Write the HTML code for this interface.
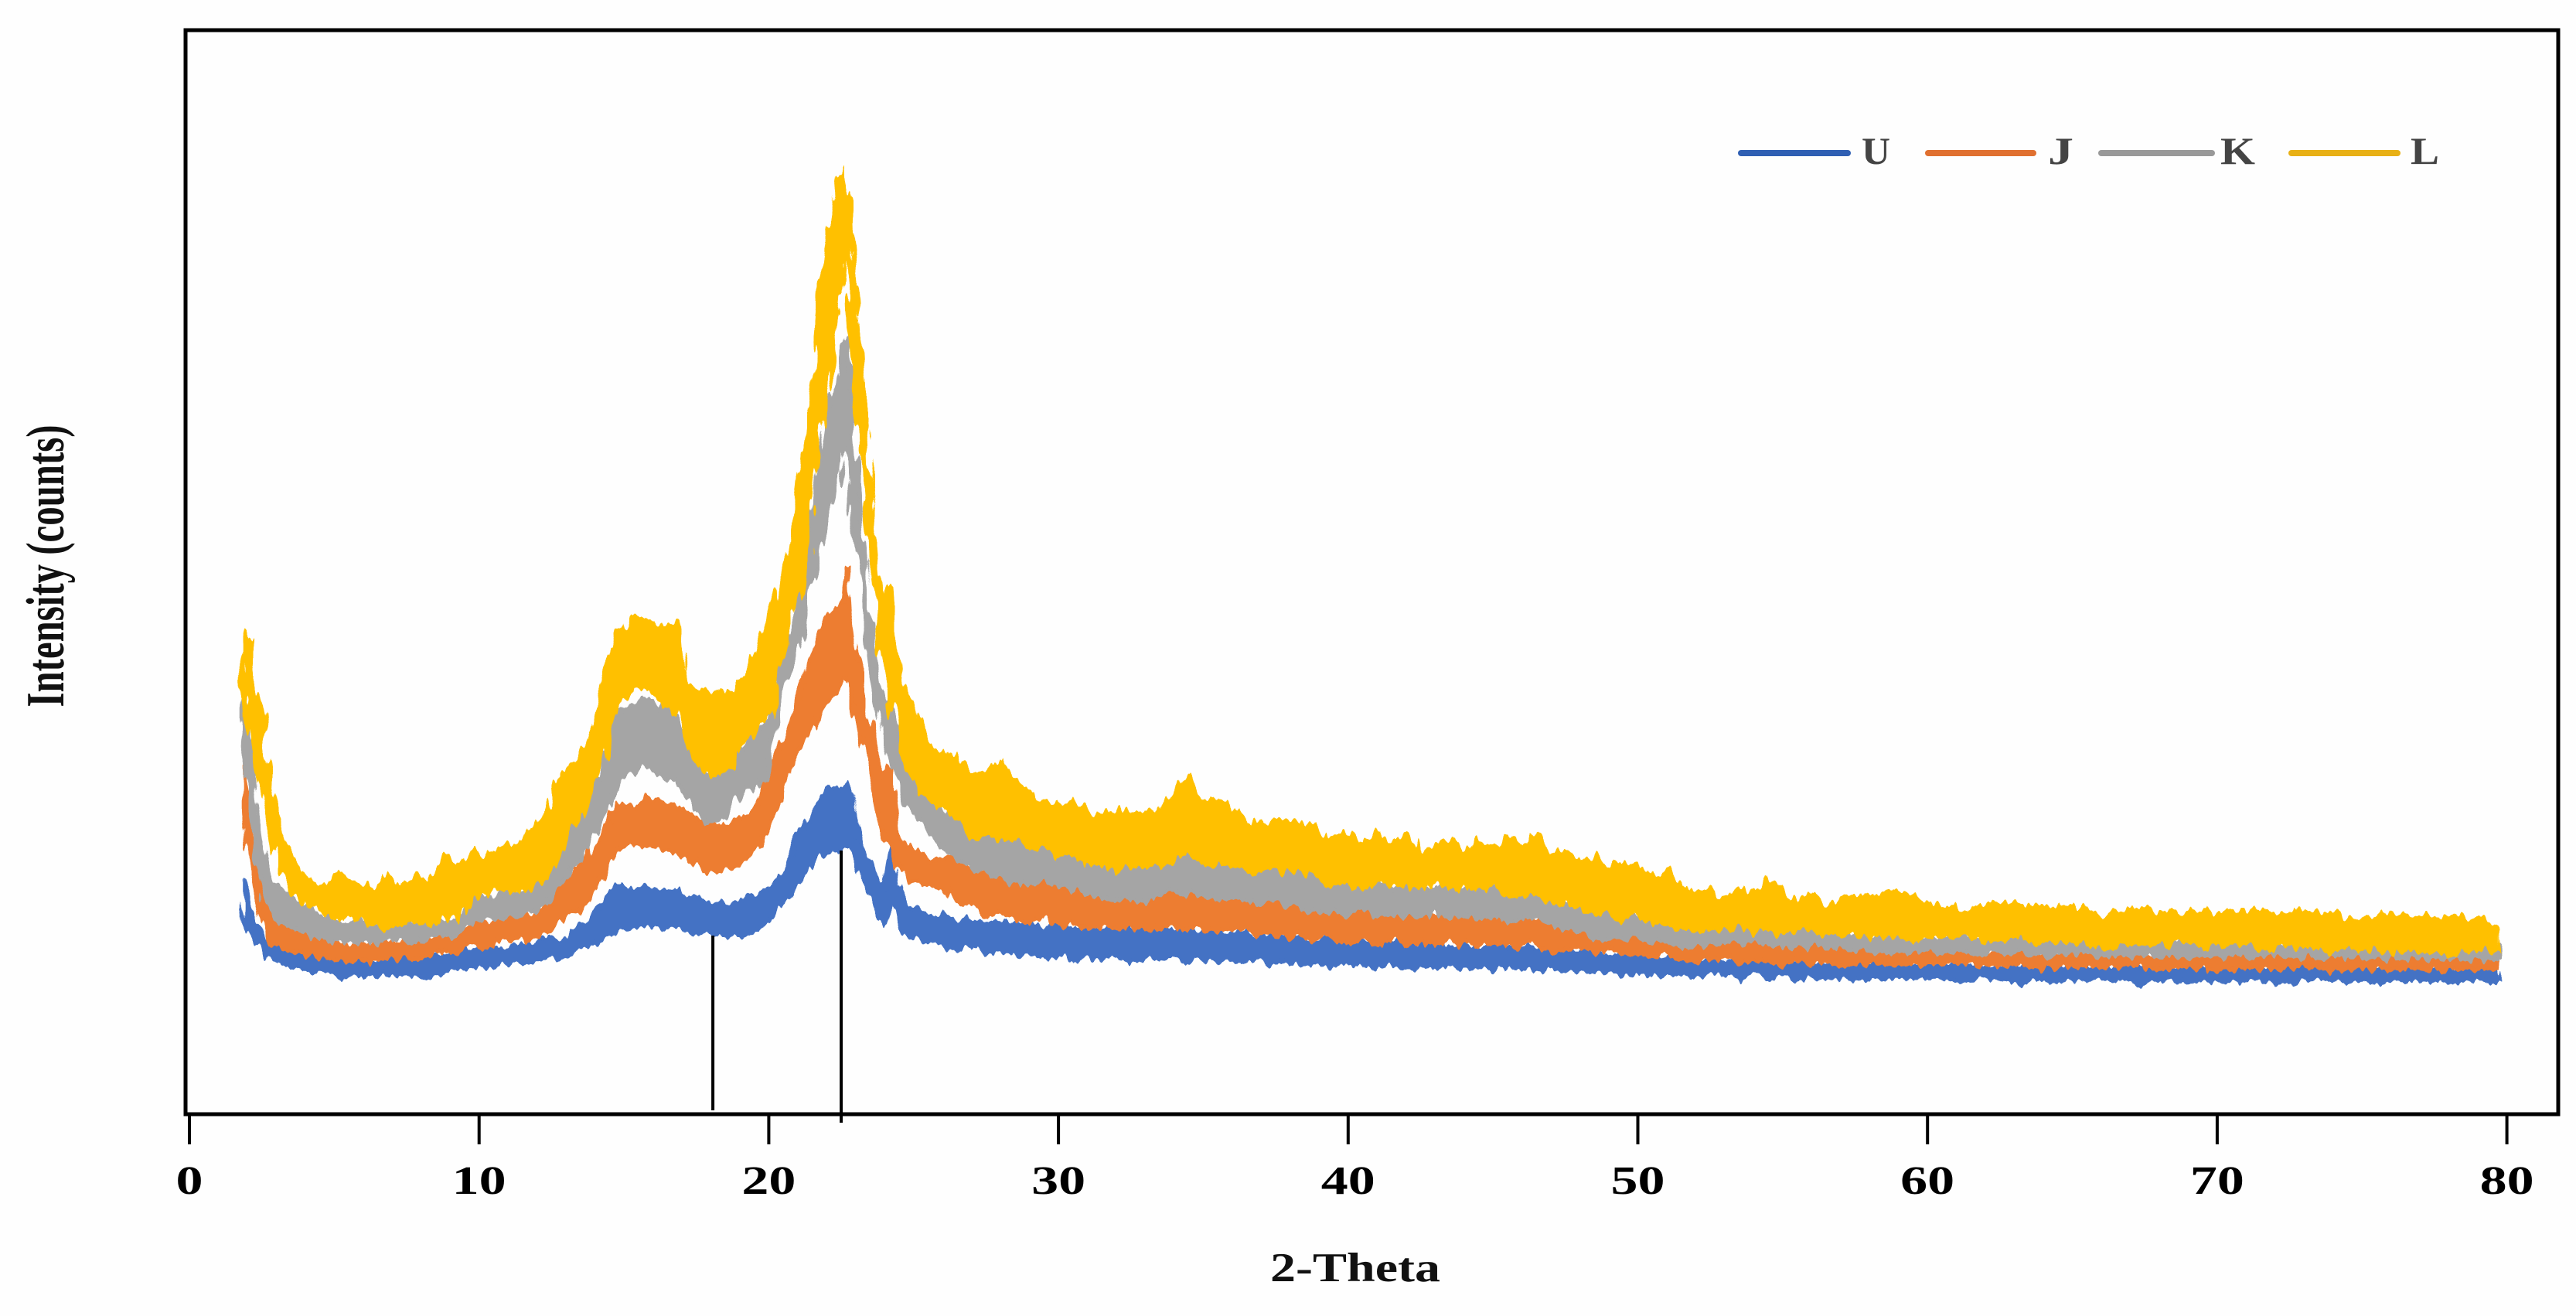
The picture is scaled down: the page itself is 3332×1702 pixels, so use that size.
<!DOCTYPE html>
<html lang="en">
<head>
<meta charset="utf-8">
<title>2-Theta Intensity Chart</title>
<style>
html,body{margin:0;padding:0;background:#fefefe;}
svg{display:block;}
text{font-family:"Liberation Serif",serif;font-weight:bold;}
</style>
</head>
<body>
<svg id="chart" xmlns="http://www.w3.org/2000/svg" width="3332" height="1702" viewBox="0 0 3332 1702">
  <defs>
    <filter id="rough-u" filterUnits="userSpaceOnUse" x="0" y="0" width="3332" height="1702" color-interpolation-filters="sRGB">
      <feTurbulence type="fractalNoise" baseFrequency="0.11 0.02" numOctaves="2" seed="3" result="n"/>
      <feDisplacementMap in="SourceGraphic" in2="n" scale="18" xChannelSelector="G" yChannelSelector="R"/>
    </filter>
    <filter id="rough-j" filterUnits="userSpaceOnUse" x="0" y="0" width="3332" height="1702" color-interpolation-filters="sRGB">
      <feTurbulence type="fractalNoise" baseFrequency="0.11 0.02" numOctaves="2" seed="11" result="n"/>
      <feDisplacementMap in="SourceGraphic" in2="n" scale="20" xChannelSelector="G" yChannelSelector="R"/>
    </filter>
    <filter id="rough-k" filterUnits="userSpaceOnUse" x="0" y="0" width="3332" height="1702" color-interpolation-filters="sRGB">
      <feTurbulence type="fractalNoise" baseFrequency="0.11 0.02" numOctaves="2" seed="23" result="n"/>
      <feDisplacementMap in="SourceGraphic" in2="n" scale="20" xChannelSelector="G" yChannelSelector="R"/>
    </filter>
    <filter id="rough-l" filterUnits="userSpaceOnUse" x="0" y="0" width="3332" height="1702" color-interpolation-filters="sRGB">
      <feTurbulence type="fractalNoise" baseFrequency="0.11 0.02" numOctaves="2" seed="37" result="n"/>
      <feDisplacementMap in="SourceGraphic" in2="n" scale="24" xChannelSelector="G" yChannelSelector="R"/>
    </filter>
  </defs>
  <rect x="0" y="0" width="3332" height="1702" fill="#fefefe"/>
  <g id="series"></g>
  <g id="markers"></g>
  <rect x="240" y="39" width="3069" height="1402" fill="none" stroke="#000" stroke-width="5"/>
  <g id="ticks"></g>
  <text x="1753" y="1657" font-size="53" text-anchor="middle" textLength="220" lengthAdjust="spacingAndGlyphs" fill="#111">2-Theta</text>
  <text transform="translate(82,732) rotate(-90)" font-size="70" text-anchor="middle" textLength="365" lengthAdjust="spacingAndGlyphs" fill="#111">Intensity (counts)</text>
  <g>
    <line x1="2252" y1="198" x2="2390" y2="198" stroke="#2f5fb3" stroke-width="8" stroke-linecap="round"/>
    <text x="2408" y="212" font-size="50" textLength="37" lengthAdjust="spacingAndGlyphs" fill="#444">U</text>
    <line x1="2494" y1="198" x2="2630" y2="198" stroke="#e07030" stroke-width="8" stroke-linecap="round"/>
    <text x="2649" y="212" font-size="50" textLength="33" lengthAdjust="spacingAndGlyphs" fill="#444">J</text>
    <line x1="2718" y1="198" x2="2861" y2="198" stroke="#999999" stroke-width="8" stroke-linecap="round"/>
    <text x="2872" y="212" font-size="50" textLength="45" lengthAdjust="spacingAndGlyphs" fill="#444">K</text>
    <line x1="2964" y1="198" x2="3101" y2="198" stroke="#e8b015" stroke-width="8" stroke-linecap="round"/>
    <text x="3118" y="212" font-size="50" textLength="37" lengthAdjust="spacingAndGlyphs" fill="#444">L</text>
  </g>
</svg>
<script>
const twoTheta = [
1.9,2.1,2.3,2.5,2.7,2.9,3.2,3.5,3.9,4.3,
4.8,5.3,5.8,6.3,6.8,7.3,7.8,8.3,8.8,9.3,
9.8,10.3,10.8,11.3,11.8,12.3,12.8,13.3,13.8,14.3,
14.8,15.3,15.8,16.3,16.8,17.3,17.8,18.3,18.8,19.2,
19.6,20,20.3,20.6,20.9,21.2,21.4,21.6,21.8,22,
22.2,22.4,22.6,22.7,22.8,23,23.2,23.4,23.6,23.8,
24,24.25,24.5,24.8,25.2,25.6,26,26.5,27,27.5,
28,28.5,29,29.5,30,30.5,31,31.5,32,32.5,
33,33.5,34,34.4,34.8,35.3,35.8,36.3,36.8,37.3,
37.8,38.3,38.8,39.3,39.8,40.5,41,41.5,42,42.5,
43,43.5,44,44.5,45,45.5,46,46.5,47,47.5,
48,48.5,49,49.5,50,50.5,51,51.5,52,52.5,
53,53.5,54,54.5,55,55.5,56,56.5,57,58,
59,60,61,62,63,64,65,66,67,68,
69,70,71,72,73,74,75,76,77,78,
79,79.7];

const uHigh = [
300,272,250,236,226,222,218,214,210,208,
205,201,204,199,203,206,202,207,205,211,
213,216,212,222,220,228,226,238,252,276,
297,290,294,286,290,280,276,270,272,278,
284,292,305,322,348,370,385,398,410,416,
422,418,424,425,420,385,350,330,310,298,
292,358,285,272,262,254,256,248,252,246,
250,244,248,240,245,240,246,236,244,238,
240,244,236,245,234,238,231,236,228,233,
226,230,224,228,222,226,220,224,221,218,
222,216,220,214,221,216,218,212,214,210,
212,208,207,210,204,206,200,203,198,201,
198,203,196,200,194,198,198,192,196,192,
193,191,194,190,192,190,191,189,192,188,
190,187,189,188,191,186,190,187,189,188,
187,189];
const uLow = [
245,232,222,214,205,200,196,192,187,185,
183,180,181,178,182,180,183,179,184,188,
192,190,195,198,196,204,202,210,218,226,
238,242,246,240,244,236,236,232,230,231,
238,252,262,276,292,308,318,328,335,338,
340,342,346,348,350,330,305,296,280,262,
246,280,240,232,225,222,222,214,218,208,
212,204,210,202,208,198,206,200,207,197,
204,200,206,196,205,198,201,196,203,194,
199,192,197,190,196,193,190,195,188,192,
190,194,188,192,187,193,189,186,191,184,
188,183,186,180,184,182,179,183,177,184,
180,176,183,177,181,173,179,176,180,175,
176,177,173,176,171,175,172,174,170,175,
171,176,173,170,175,172,174,171,174,172,
175,173];

const jHigh = [
450,385,340,300,272,256,250,244,238,232,
226,218,222,216,224,223,220,228,226,231,
250,246,254,260,256,272,300,315,333,372,
402,398,409,404,398,388,378,372,378,385,
400,440,470,495,522,560,585,606,624,640,
650,656,668,704,650,600,560,520,480,455,
440,452,363,345,338,330,326,338,320,311,
316,304,301,308,296,300,294,302,290,298,
292,298,290,296,294,288,291,284,290,280,
284,276,280,272,268,276,262,270,260,266,
258,266,254,264,256,262,271,252,260,246,
252,244,248,240,242,236,238,230,228,226,
232,222,236,220,226,224,232,218,222,214,
216,212,218,208,214,206,212,208,210,206,
208,204,210,206,212,204,208,206,210,207,
205,208];
const jLow = [
389,335,290,255,232,221,216,212,210,206,
202,198,200,197,202,203,200,206,208,213,
220,218,224,228,226,233,250,262,277,312,
345,350,348,344,338,328,316,316,322,326,
345,372,400,432,460,480,495,510,522,530,
540,548,566,560,545,510,490,455,420,384,
360,345,317,305,300,296,292,278,270,258,
264,252,248,256,244,248,238,246,240,244,
238,241,246,238,244,236,238,242,232,236,
228,234,224,230,222,226,220,228,218,224,
216,224,220,214,222,216,218,224,212,216,
214,208,212,206,209,204,207,200,198,202,
204,196,200,198,192,200,194,198,192,196,
194,194,198,192,194,190,192,190,194,188,
191,187,190,188,192,186,190,188,190,187,
189,188];

const kHigh = [
555,470,400,355,325,302,290,282,272,262,
254,246,250,244,252,251,247,255,250,256,
285,280,288,284,290,322,356,384,410,450,
515,530,537,528,516,470,438,445,466,482,
495,510,572,600,650,720,775,810,860,905,
935,945,1003,1000,960,860,744,680,600,560,
535,515,490,457,425,405,395,384,375,368,
370,362,356,348,345,340,350,338,341,336,
345,340,351,368,345,338,334,340,328,324,
320,318,312,305,300,296,304,292,298,294,
290,298,288,294,300,296,308,284,280,272,
276,268,261,266,258,250,256,245,241,252,
250,256,246,252,248,240,244,236,238,232,
231,228,232,226,229,225,228,224,227,223,
225,222,226,219,223,218,222,217,221,218,
220,218];
const kLow = [
455,385,330,295,270,256,248,242,236,230,
225,221,224,220,227,226,223,230,228,232,
254,252,258,256,262,272,298,323,350,385,
430,445,450,438,430,405,378,378,405,420,
425,445,520,560,590,630,680,705,745,775,
795,820,865,855,810,740,690,610,550,510,
485,457,430,400,380,366,345,328,320,312,
306,300,298,304,296,292,286,282,281,278,
276,284,291,282,288,280,284,278,274,276,
272,268,262,264,258,262,256,260,258,256,
262,254,258,252,256,250,251,256,246,240,
236,230,224,228,226,222,224,220,221,222,
224,220,222,218,218,216,220,214,216,212,
211,211,212,208,208,206,208,205,207,204,
204,206,203,205,204,202,205,202,204,201,
202,201];

const lHigh = [
624,610,555,505,450,409,365,335,310,300,
296,312,298,290,306,292,310,300,335,322,
340,330,350,345,365,384,440,455,481,562,
625,642,639,630,634,555,545,542,549,572,
600,641,672,704,767,853,917,980,1070,1130,
1170,1204,1215,1221,1150,1050,985,840,762,680,
672,681,565,540,505,474,470,460,438,442,
454,425,411,405,398,402,390,385,392,388,
390,391,420,436,412,405,401,385,371,378,
378,376,374,358,364,350,362,348,363,340,
345,356,336,354,342,358,345,360,334,340,
322,334,318,326,321,305,315,295,284,290,
280,292,284,303,288,275,284,270,278,282,
289,272,264,268,274,262,268,256,262,260,
263,258,262,259,262,258,250,258,252,254,
252,241];
const lLow = [
540,490,450,410,375,353,315,290,276,265,
258,251,256,246,240,246,250,244,256,252,
284,288,292,288,294,302,340,372,409,465,
530,550,552,535,518,478,440,440,458,480,
505,509,560,618,665,687,744,848,900,945,
990,1031,1123,1100,1014,939,859,765,695,625,
565,530,505,445,420,405,398,380,358,362,
351,356,344,348,334,338,320,326,314,322,
318,321,330,341,330,322,324,316,314,320,
314,318,308,296,302,290,304,296,298,292,
300,292,296,290,298,284,280,288,272,278,
268,262,258,252,256,248,246,240,234,242,
238,244,236,240,232,240,238,232,236,230,
231,226,232,226,230,224,228,216,224,220,
224,216,222,214,218,212,216,210,214,211,
213,211];

const xTickLabels = ["0","10","20","30","40","50","60","70","80"];
const peakMarkers = [18.07, 22.5];
const peakMarkerTops = [231, 341];

const NS = 'http://www.w3.org/2000/svg';
function xScale(v){ return 245 + v * 37.47; }
function yScale(v){ return 1441 - v; }

const seriesGroup = document.getElementById('series');
function drawBand(name, color, high, low){
  let d = '';
  for (let i = 0; i < twoTheta.length; i++) {
    d += (i === 0 ? 'M' : 'L') + xScale(twoTheta[i]).toFixed(1) + ' ' + yScale(high[i]).toFixed(1);
  }
  for (let i = twoTheta.length - 1; i >= 0; i--) {
    d += 'L' + xScale(twoTheta[i]).toFixed(1) + ' ' + yScale(low[i]).toFixed(1);
  }
  d += 'Z';
  const p = document.createElementNS(NS, 'path');
  
  
  p.setAttribute('d', d);
  p.setAttribute('fill', color);
  p.setAttribute('stroke', color);
  p.setAttribute('stroke-width', '5');
  p.setAttribute('stroke-linejoin', 'round');
  p.setAttribute('filter', 'url(#rough-' + name + ')');
  seriesGroup.appendChild(p);
}
drawBand('u', '#4472c4', uHigh, uLow);
drawBand('j', '#ed7d31', jHigh, jLow);
drawBand('k', '#a5a5a5', kHigh, kLow);
drawBand('l', '#ffc000', lHigh, lLow);

const markerGroup = document.getElementById('markers');
peakMarkers.forEach(function(v, i){
  const m = document.createElementNS(NS, 'line');
  
  
  m.setAttribute('x1', xScale(v));
  m.setAttribute('x2', xScale(v));
  m.setAttribute('y1', yScale(peakMarkerTops[i]));
  m.setAttribute('y2', i === 0 ? 1436 : 1452);
  m.setAttribute('stroke', '#000');
  m.setAttribute('stroke-width', '4');
  markerGroup.appendChild(m);
});

const tickGroup = document.getElementById('ticks');
xTickLabels.forEach(function(label){
  const x = xScale(Number(label));
  const t = document.createElementNS(NS, 'line');
  
  
  t.setAttribute('x1', x);
  t.setAttribute('x2', x);
  t.setAttribute('y1', 1441);
  t.setAttribute('y2', 1480);
  t.setAttribute('stroke', '#000');
  t.setAttribute('stroke-width', '4');
  tickGroup.appendChild(t);
  const s = document.createElementNS(NS, 'text');
  
  
  s.setAttribute('x', x);
  s.setAttribute('y', 1544);
  s.setAttribute('font-size', '52');
  s.setAttribute('text-anchor', 'middle');
  s.setAttribute('textLength', label.length * 35);
  s.setAttribute('lengthAdjust', 'spacingAndGlyphs');
  s.setAttribute('fill', '#000');
  s.textContent = label;
  tickGroup.appendChild(s);
});
</script>
</body>
</html>
